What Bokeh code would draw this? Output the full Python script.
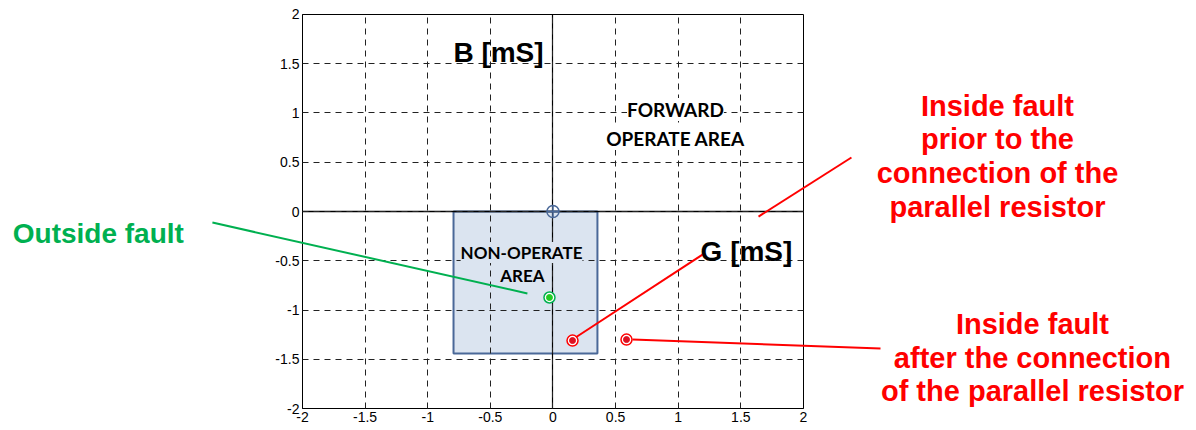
from bokeh.plotting import figure
from bokeh.models import (Range1d, FixedTicker, Label, LinearAxis, Grid)
from bokeh.embed import file_html
from bokeh.resources import INLINE

# ---- data ----
ticks = [-2, -1.5, -1, -0.5, 0, 0.5, 1, 1.5, 2]
tick_labels = ["-2", "-1.5", "-1", "-0.5", "0", "0.5", "1", "1.5", "2"]
axis_lim = (-2, 2)

# non-operate area (G, B in mS)
area_g = [-0.794, 0.355]
area_b = [-1.442, 0.0]

origin_g = [0.0]
origin_b = [0.0]

outside_g = [-0.028]
outside_b = [-0.873]

inside_g = [0.156, 0.587]
inside_b = [-1.31, -1.30]

# annotation leader lines (data units)
green_x0 = [-2.719]
green_y0 = [-0.112]
green_x1 = [-0.204]
green_y1 = [-0.832]
red_x0 = [0.180, 1.641, 0.635]
red_y0 = [-1.279, -0.051, -1.300]
red_x1 = [1.194, 2.383, 2.615]
red_y1 = [-0.437, 0.548, -1.391]

outside_text = ["Outside fault"]
prior_text = ["Inside fault", "prior to the", "connection of the", "parallel resistor"]
after_text = ["Inside fault", "after the connection", "of the parallel resistor"]

GREEN = "#00b050"
RED = "#ff0000"
ARIAL = "Liberation Sans"
CALIBRI = "Lato"

W, H = 1196, 430
# view window (canvas extends beyond the [-2, 2] axes box)
p = figure(width=W, height=H, output_backend="svg", toolbar_location=None,
           x_range=Range1d(-4.411, 5.138), y_range=Range1d(-2.223, 2.142),
           x_axis_type=None, y_axis_type=None,
           min_border=0, min_border_left=0, min_border_right=0,
           min_border_top=0, min_border_bottom=0)
p.background_fill_color = "white"
p.border_fill_color = "white"
p.outline_line_color = None

labels_map = {t: l for t, l in zip(ticks, tick_labels)}

def make_axis(loc, labelled, tick_in):
    ax = LinearAxis(fixed_location=loc, bounds=axis_lim,
                    ticker=FixedTicker(ticks=ticks))
    ax.major_label_overrides = labels_map
    ax.major_tick_in = tick_in
    ax.major_tick_out = 0
    ax.minor_tick_in = 0
    ax.minor_tick_out = 0
    ax.major_label_standoff = 3
    ax.axis_line_color = "black"
    ax.axis_line_width = 1
    ax.major_tick_line_color = "black" if tick_in else None
    ax.major_label_text_font = ARIAL
    ax.major_label_text_font_size = "14px"
    ax.major_label_text_color = "black" if labelled else None
    return ax

p.add_layout(make_axis(axis_lim[0], True, 5), "below")
p.add_layout(make_axis(axis_lim[0], True, 5), "left")
p.add_layout(make_axis(axis_lim[1], False, 0), "above")
p.add_layout(make_axis(axis_lim[1], False, 0), "right")

for dim in (0, 1):
    g = Grid(dimension=dim, ticker=FixedTicker(ticks=ticks[1:-1]),
             bounds=axis_lim, cross_bounds=axis_lim)
    g.grid_line_color = "#222222"
    g.grid_line_dash = "6 5"
    g.grid_line_width = 1
    g.level = "guide"
    p.add_layout(g)

# non-operate area
p.quad(left=[area_g[0]], right=[area_g[1]], bottom=[area_b[0]], top=[area_b[1]],
       fill_color="#dbe4f0", line_color="#4a6898", line_width=2)

# main G / B axes through the origin
ax0 = make_axis(0, False, 0)
ax0.axis_line_width = 1.5
p.add_layout(ax0, "below")
ay0 = make_axis(0, False, 0)
ay0.axis_line_width = 1.2
p.add_layout(ay0, "left")

# leader lines
r = p.segment(green_x0, green_y0, green_x1, green_y1, line_color=GREEN, line_width=2)
r.level = "annotation"
r = p.segment(red_x0, red_y0, red_x1, red_y1, line_color=RED, line_width=2)
r.level = "annotation"

# markers
r = p.scatter(origin_g, origin_b, marker="circle_cross", size=12, fill_color=None,
              line_color="#4a6898", line_width=1.5)
r.level = "overlay"
r = p.scatter(outside_g, outside_b, size=11, fill_color="white", line_color=GREEN, line_width=1.5)
r.level = "overlay"
r = p.scatter(outside_g, outside_b, size=6, fill_color="#22cc22", line_color="#22cc22")
r.level = "overlay"
r = p.scatter(inside_g, inside_b, size=11, fill_color="white", line_color=RED, line_width=1.5)
r.level = "overlay"
r = p.scatter(inside_g, inside_b, size=6, fill_color="#dd1122", line_color="#dd1122")
r.level = "overlay"

def lab(x, y, text, size, color, font, bg=None, align="center"):
    l = Label(x=x, y=y, text=text, text_font=font, text_font_size=size,
              text_font_style="bold", text_color=color, text_align=align,
              text_baseline="alphabetic")
    if bg is not None:
        l.background_fill_color = bg
    p.add_layout(l)

lab(-0.435, 1.614, "B [mS]", "28px", "black", ARIAL)
lab(1.545, -0.406, "G [mS]", "28px", "black", ARIAL)
lab(0.978, 1.036, "FORWARD", "19px", "black", CALIBRI, bg="white")
lab(0.978, 0.741, "OPERATE AREA", "19px", "black", CALIBRI, bg="white")
lab(-0.251, -0.416, "NON-OPERATE", "17px", "black", CALIBRI, bg="#dbe4f0")
lab(-0.244, -0.650, "AREA", "17px", "black", CALIBRI, bg="#dbe4f0")

lab(-3.63, -0.223, outside_text[0], "28px", GREEN, ARIAL)
prior_y = [1.076, 0.731, 0.386, 0.041]
for t, y in zip(prior_text, prior_y):
    lab(3.549, y, t, "29px", RED, ARIAL)
after_y = [-1.137, -1.482, -1.817]
for t, y in zip(after_text, after_y):
    lab(3.828, y, t, "29px", RED, ARIAL)

open("out.html", "w").write(file_html(p, INLINE))
